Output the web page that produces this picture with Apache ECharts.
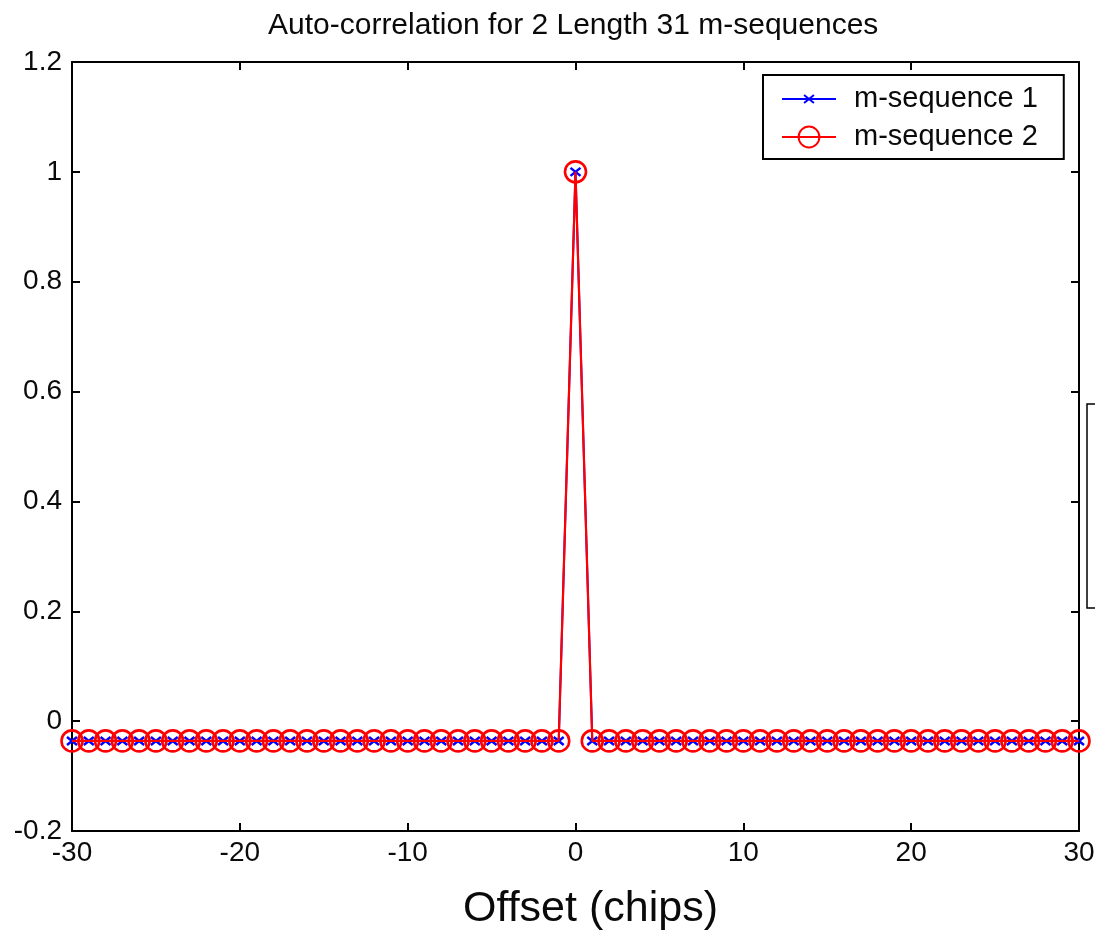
<!DOCTYPE html>
<html>
<head>
<meta charset="utf-8">
<script src="https://cdn.jsdelivr.net/npm/echarts@6/dist/echarts.min.js"></script>
<style>
  html, body { margin: 0; padding: 0; background: #fff; }
  #chart { width: 1095px; height: 930px; }
</style>
</head>
<body>
<div id="chart"></div>
<script>
// ---- data ----
const offsets = [-30,-29,-28,-27,-26,-25,-24,-23,-22,-21,-20,-19,-18,-17,-16,-15,-14,-13,-12,-11,-10,-9,-8,-7,-6,-5,-4,-3,-2,-1,0,1,2,3,4,5,6,7,8,9,10,11,12,13,14,15,16,17,18,19,20,21,22,23,24,25,26,27,28,29,30];
const seq1 = [-0.036,-0.036,-0.036,-0.036,-0.036,-0.036,-0.036,-0.036,-0.036,-0.036,-0.036,-0.036,-0.036,-0.036,-0.036,-0.036,-0.036,-0.036,-0.036,-0.036,-0.036,-0.036,-0.036,-0.036,-0.036,-0.036,-0.036,-0.036,-0.036,-0.036,1,-0.036,-0.036,-0.036,-0.036,-0.036,-0.036,-0.036,-0.036,-0.036,-0.036,-0.036,-0.036,-0.036,-0.036,-0.036,-0.036,-0.036,-0.036,-0.036,-0.036,-0.036,-0.036,-0.036,-0.036,-0.036,-0.036,-0.036,-0.036,-0.036,-0.036];
const seq2 = [-0.036,-0.036,-0.036,-0.036,-0.036,-0.036,-0.036,-0.036,-0.036,-0.036,-0.036,-0.036,-0.036,-0.036,-0.036,-0.036,-0.036,-0.036,-0.036,-0.036,-0.036,-0.036,-0.036,-0.036,-0.036,-0.036,-0.036,-0.036,-0.036,-0.036,1,-0.036,-0.036,-0.036,-0.036,-0.036,-0.036,-0.036,-0.036,-0.036,-0.036,-0.036,-0.036,-0.036,-0.036,-0.036,-0.036,-0.036,-0.036,-0.036,-0.036,-0.036,-0.036,-0.036,-0.036,-0.036,-0.036,-0.036,-0.036,-0.036,-0.036];
const seriesNames = ['m-sequence 1', 'm-sequence 2'];
const xTicks = { min: -30, max: 30, step: 10 };
const yTicks = { min: -0.2, max: 1.2, step: 0.2 };
const titleText = 'Auto-correlation for 2 Length 31 m-sequences';
const xName = 'Offset (chips)';

const FONT = '"Liberation Sans", Arial, Helvetica, sans-serif';
const TXT = '#0a0a0a';
const chart = echarts.init(document.getElementById('chart'), null, { renderer: 'canvas' });

const pairs = (ys) => offsets.map((x, i) => [x, ys[i]]);

const tickStyle = { show: true, inside: true, length: 8, lineStyle: { color: '#000', width: 2 } };
const lineStyleAxis = { show: true, onZero: false, lineStyle: { color: '#000', width: 2 } };

const option = {
  animation: false,
  backgroundColor: '#fff',
  title: {
    text: titleText,
    left: 268,
    top: 11,
    padding: 0,
    textStyle: { fontFamily: FONT, fontSize: 30, fontWeight: 'normal', color: TXT }
  },
  legend: {
    data: seriesNames,
    orient: 'vertical',
    left: 763,
    top: 75,
    padding: [9, 26, 7, 18],
    itemGap: 8,
    itemWidth: 54,
    itemHeight: 26,
    backgroundColor: '#fff',
    borderColor: '#000',
    borderWidth: 2,
    borderRadius: 0,
    selectedMode: false,
    textStyle: { fontFamily: FONT, fontSize: 29, color: TXT, lineHeight: 30, padding: [0, 0, 0, 13] }
  },
  grid: { left: 72, right: 16, top: 62, bottom: 99, containLabel: false, outerBoundsMode: 'none' },
  xAxis: [
    {
      type: 'value', min: xTicks.min, max: xTicks.max, interval: xTicks.step,
      position: 'bottom',
      axisLine: lineStyleAxis,
      axisTick: tickStyle,
      splitLine: { show: false },
      axisLabel: { fontFamily: FONT, fontSize: 28, color: TXT, margin: 8 },
      name: xName, nameLocation: 'middle', nameGap: 57,
      nameTextStyle: { fontFamily: FONT, fontSize: 43, color: TXT, padding: [0, 0, 0, 30] }
    },
    {
      type: 'value', min: xTicks.min, max: xTicks.max, interval: xTicks.step,
      position: 'top',
      axisLine: lineStyleAxis,
      axisTick: tickStyle,
      splitLine: { show: false },
      axisLabel: { show: false }
    }
  ],
  yAxis: [
    {
      type: 'value', min: yTicks.min, max: yTicks.max, interval: yTicks.step,
      position: 'left',
      axisLine: lineStyleAxis,
      axisTick: tickStyle,
      splitLine: { show: false },
      axisLabel: { fontFamily: FONT, fontSize: 28, color: TXT, margin: 10 }
    },
    {
      type: 'value', min: yTicks.min, max: yTicks.max, interval: yTicks.step,
      position: 'right',
      axisLine: lineStyleAxis,
      axisTick: tickStyle,
      splitLine: { show: false },
      axisLabel: { show: false }
    }
  ],
  series: [
    {
      name: seriesNames[0],
      type: 'line',
      xAxisIndex: 0, yAxisIndex: 0,
      data: pairs(seq1),
      clip: false,
      symbol: 'path://M0,0M21,21M5.5,6.5L15.5,14.5M15.5,6.5L5.5,14.5',
      symbolSize: 21,
      showAllSymbol: true,
      lineStyle: { color: '#0000ff', width: 2 },
      itemStyle: { color: 'rgba(0,0,0,0)', borderColor: '#0000ff', borderWidth: 2.5 },
      emphasis: { disabled: true },
      z: 2
    },
    {
      name: seriesNames[1],
      type: 'line',
      xAxisIndex: 0, yAxisIndex: 0,
      data: pairs(seq2),
      clip: false,
      symbol: 'circle',
      symbolSize: 21,
      showAllSymbol: true,
      lineStyle: { color: '#ff0000', width: 2.2 },
      itemStyle: { color: 'rgba(0,0,0,0)', borderColor: '#ff0000', borderWidth: 2.6 },
      emphasis: { disabled: true },
      z: 3
    }
  ],
  graphic: [
    {
      type: 'rect',
      shape: { x: 1087, y: 404, width: 40, height: 204 },
      style: { fill: 'none', stroke: '#000', lineWidth: 1.5 },
      silent: true
    }
  ]
};

chart.setOption(option);
</script>
</body>
</html>
